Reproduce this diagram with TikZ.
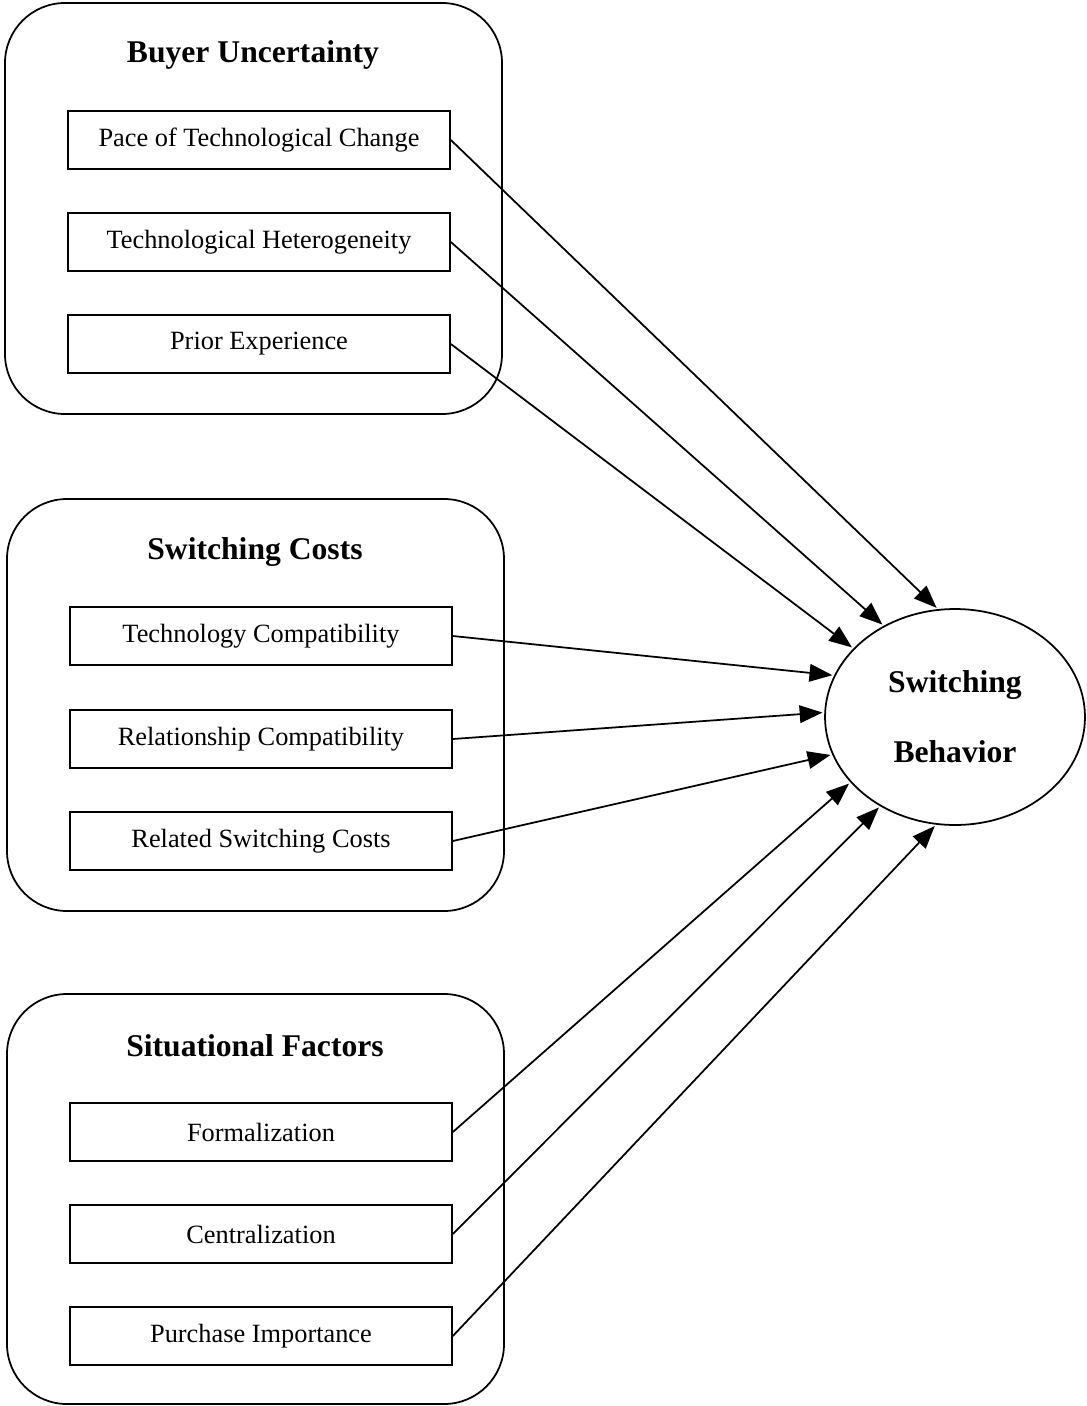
\documentclass[tikz,border=0pt]{standalone}
\usepackage{fontspec}
\setmainfont{Liberation Serif}
\usetikzlibrary{shapes.geometric,arrows.meta}

\tikzset{
    factor/.style={rectangle, draw, line width=1pt, minimum width=7.64cm, minimum height=1.16cm, inner sep=0pt, font=\fontsize{15}{18}\selectfont},
    group/.style={draw, line width=1pt, rounded corners=1.2cm},
    grouptitle/.style={font=\fontsize{18}{22}\selectfont\bfseries},
    link/.style={-{Triangle[length=13pt,width=10pt]}, line width=1pt, shorten >=1pt}
}

\begin{document}
\begin{tikzpicture}[x=0.02cm, y=-0.02cm]
        \useasboundingbox (0,0) rectangle (1087,1406);
        % groups
        \draw[group] (5,3) rectangle (502,414);
        \draw[group] (7,499) rectangle (504,911);
        \draw[group] (7,994) rectangle (504,1404);
        \node[grouptitle] (gbu) at (253,55) {Buyer Uncertainty};
        \node[grouptitle] (gsc) at (255,552) {Switching Costs};
        \node[grouptitle] (gsf) at (255,1046) {Situational Factors};
        % factors
        \node[factor] (pace) at (259,140) {Pace of Technological Change};
        \node[factor] (het) at (259,242) {Technological Heterogeneity};
        \node[factor] (prior) at (259,344) {Prior Experience};
        \node[factor] (tcomp) at (261,636) {Technology Compatibility};
        \node[factor] (rcomp) at (261,739) {Relationship Compatibility};
        \node[factor] (rcost) at (261,841) {Related Switching Costs};
        \node[factor] (form) at (261,1132) {Formalization};
        \node[factor] (cent) at (261,1234) {Centralization};
        \node[factor] (purch) at (261,1336) {Purchase Importance};
        % outcome
        \node[ellipse, draw, line width=1pt, minimum width=5.2cm, minimum height=4.32cm, inner sep=0pt, align=center, font=\fontsize{18}{40}\selectfont\bfseries] (sb) at (955,717) {Switching\\Behavior};
        % arrows
        \draw[link] (pace.east) -- (sb.99);
        \draw[link] (het.east) -- (sb.128);
        \draw[link] (prior.east) -- (sb.146);
        \draw[link] (tcomp.east) -- (sb.161);
        \draw[link] (rcomp.east) -- (sb.178);
        \draw[link] (rcost.east) -- (sb.197);
        \draw[link] (form.east) -- (sb.212);
        \draw[link] (cent.east) -- (sb.230);
        \draw[link] (purch.east) -- (sb.260);
    \end{tikzpicture}
\end{document}
